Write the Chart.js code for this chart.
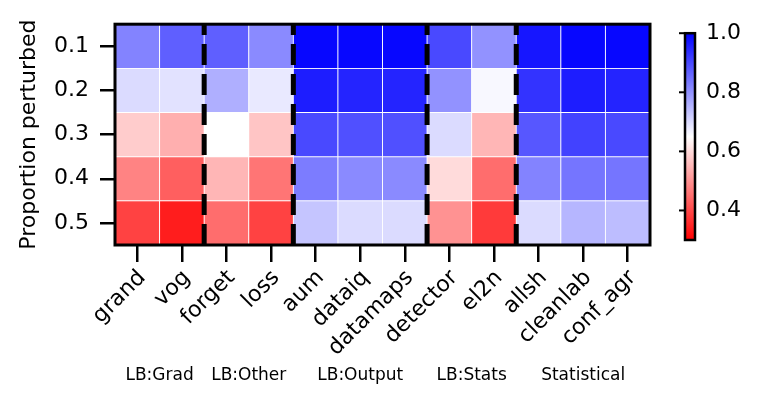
<!DOCTYPE html>
<html>
<head>
<meta charset="utf-8">
<script src="https://cdn.jsdelivr.net/npm/chart.js@4.4.1/dist/chart.umd.min.js"></script>
<style>
  html, body { margin: 0; padding: 0; background: #fff; }
  #wrap { width: 762px; height: 406px; }
</style>
</head>
<body>
<div id="wrap"><canvas id="mapa" width="762" height="406"></canvas></div>
<script>
// metodos (columnas) y proporciones (filas)
var metodos = ["grand", "vog", "forget", "loss", "aum", "dataiq", "datamaps", "detector", "el2n", "allsh", "cleanlab", "conf_agr"];
var proporciones = ["0.1", "0.2", "0.3", "0.4", "0.5"];

var fila01 = [0.82, 0.87, 0.87, 0.81, 0.99, 0.99, 0.99, 0.90, 0.80, 0.97, 0.99, 0.99];
var fila02 = [0.70, 0.69, 0.76, 0.68, 0.96, 0.95, 0.95, 0.80, 0.66, 0.93, 0.96, 0.95];
var fila03 = [0.58, 0.54, 0.65, 0.57, 0.90, 0.89, 0.89, 0.70, 0.55, 0.88, 0.91, 0.90];
var fila04 = [0.48, 0.43, 0.55, 0.46, 0.83, 0.81, 0.81, 0.60, 0.45, 0.82, 0.84, 0.84];
var fila05 = [0.39, 0.34, 0.45, 0.39, 0.73, 0.70, 0.70, 0.50, 0.38, 0.70, 0.75, 0.74];
var filas = [fila01, fila02, fila03, fila04, fila05];

// grupos de metodos
var grupos = ["LB:Grad", "LB:Other", "LB:Output", "LB:Stats", "Statistical"];
var tamanoGrupos = [2, 2, 3, 2, 3];

// escala de color
var vMin = 0.3;
var vMax = 1.0;
var ticksColor = [0.4, 0.6, 0.8, 1.0];

var fuente = "'DejaVu Sans', sans-serif";

function colorDe(v) {
    let t = (v - vMin) / (vMax - vMin);
    t = Math.max(0, Math.min(1, t));
    let r, g, b;
    if (t < 0.5) {
        r = 255;
        g = b = Math.round(510 * t);
    } else {
        r = g = Math.round(510 * (1 - t));
        b = 255;
    }
    return "rgb(" + r + "," + g + "," + b + ")";
}

var datasets = filas.map(function (fila, i) {
    return {
        label: proporciones[i],
        data: fila.map(function () { return [i + 0.5, i + 1.5]; }),
        backgroundColor: fila.map(colorDe),
        borderColor: "white",
        borderWidth: 0.8,
        borderSkipped: false,
        grouped: false,
        categoryPercentage: 1,
        barPercentage: 1,
    };
});

var extras = {
    id: "extras",
    afterDatasetsDraw: function (chart) {
        let ctx = chart.ctx;
        let area = chart.chartArea;
        let x = chart.scales.x;

        // lineas discontinuas entre grupos
        ctx.save();
        ctx.strokeStyle = "black";
        ctx.lineWidth = 5;
        ctx.setLineDash([21, 9]);
        let col = 0;
        for (let g = 0; g < tamanoGrupos.length - 1; g++) {
            col += tamanoGrupos[g];
            let px = (x.getPixelForValue(col - 1) + x.getPixelForValue(col)) / 2;
            ctx.beginPath();
            ctx.moveTo(px, area.bottom);
            ctx.lineTo(px, area.top);
            ctx.stroke();
        }
        ctx.restore();

        // marco
        ctx.save();
        ctx.strokeStyle = "black";
        ctx.lineWidth = 3;
        ctx.strokeRect(area.left, area.top, area.right - area.left, area.bottom - area.top);
        ctx.restore();
    },
    afterDraw: function (chart) {
        let ctx = chart.ctx;
        let area = chart.chartArea;
        let x = chart.scales.x;

        // etiquetas de grupo
        ctx.save();
        ctx.fillStyle = "black";
        ctx.font = "17px " + fuente;
        ctx.textAlign = "center";
        ctx.textBaseline = "middle";
        let col = 0;
        for (let g = 0; g < grupos.length; g++) {
            let a = x.getPixelForValue(col);
            let b = x.getPixelForValue(col + tamanoGrupos[g] - 1);
            ctx.fillText(grupos[g], (a + b) / 2, 376);
            col += tamanoGrupos[g];
        }
        ctx.restore();

        // barra de color
        let cx = area.right + 35;
        let cw = 10;
        let ct = area.top + 9;
        let cb = area.bottom - 5;
        let grad = ctx.createLinearGradient(0, cb, 0, ct);
        grad.addColorStop(0, colorDe(vMin));
        grad.addColorStop(0.5, colorDe((vMin + vMax) / 2));
        grad.addColorStop(1, colorDe(vMax));
        ctx.save();
        ctx.fillStyle = grad;
        ctx.fillRect(cx, ct, cw, cb - ct);
        ctx.strokeStyle = "black";
        ctx.lineWidth = 2.5;
        ctx.strokeRect(cx, ct, cw, cb - ct);
        ctx.font = "22px " + fuente;
        ctx.fillStyle = "black";
        ctx.textAlign = "left";
        ctx.textBaseline = "middle";
        ctx.lineWidth = 2;
        for (let v of ticksColor) {
            let py = cb - ((v - vMin) / (vMax - vMin)) * (cb - ct);
            ctx.beginPath();
            ctx.moveTo(cx - 6, py);
            ctx.lineTo(cx, py);
            ctx.stroke();
            ctx.fillText(v.toFixed(1), cx + 21, py);
        }
        ctx.restore();
    },
};

var grafico = new Chart(document.getElementById("mapa"), {
    type: "bar",
    data: { labels: metodos, datasets: datasets },
    options: {
        responsive: false,
        animation: false,
        layout: { padding: { left: 0, top: 20, right: 112, bottom: 0 } },
        plugins: { legend: { display: false }, tooltip: { enabled: false } },
        scales: {
            x: {
                type: "category",
                offset: true,
                border: { display: false },
                grid: { offset: false, drawOnChartArea: false, drawTicks: true, tickLength: 17, color: "black", lineWidth: 2.5 },
                ticks: { autoSkip: false, maxRotation: 45, minRotation: 45, padding: 3, labelOffset: 5, color: "black", font: { family: fuente, size: 22 } },
                afterFit: function (scale) { scale.height = 161; },
            },
            y: {
                type: "linear",
                min: 0.5,
                max: 5.5,
                reverse: true,
                border: { display: false },
                grid: { drawOnChartArea: false, drawTicks: true, tickLength: 15, color: "black", lineWidth: 2.5 },
                afterBuildTicks: function (scale) {
                    scale.ticks = proporciones.map(function (p, i) { return { value: i + 1 }; });
                },
                ticks: {
                    padding: 11,
                    color: "black",
                    font: { family: fuente, size: 22 },
                    callback: function (v) { return proporciones[v - 1]; },
                },
                title: { display: true, text: "Proportion perturbed", color: "black", font: { family: fuente, size: 22 }, padding: { top: 16, bottom: 0 } },
                afterFit: function (scale) { scale.width = 115; },
            },
        },
    },
    plugins: [extras],
});
</script>
</body>
</html>
